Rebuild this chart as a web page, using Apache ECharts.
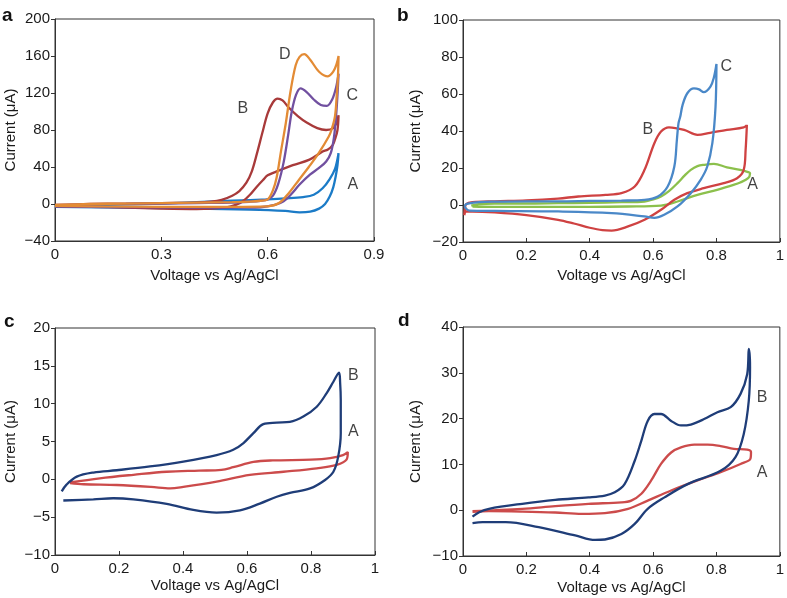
<!DOCTYPE html>
<html>
<head>
<meta charset="utf-8">
<script src="https://cdn.jsdelivr.net/npm/echarts@6/dist/echarts.min.js"></script>
<style>
html,body{margin:0;padding:0;background:#fff;}
#chart{width:787px;height:598px;}
</style>
</head>
<body>
<div id="chart"></div>
<script>
// ---------- Panel a (V vs Ag/AgCl, µA) ----------
const aA = [[0,-2],[0.1,-1.2],[0.2,-0.5],[0.3,0.5],[0.4,2],[0.5,3.5],[0.6,5],[0.65,6],[0.7,7.5],[0.73,10],[0.755,17],[0.775,27],[0.79,38],[0.8,55],
  [0.797,42],[0.792,30],[0.785,18],[0.775,8],[0.762,0],[0.745,-5],[0.72,-8.3],[0.69,-9],[0.65,-7.5],[0.55,-6],[0.4,-5],[0.2,-4],[0,-3]];
const aB = [[0,-1],[0.1,0],[0.2,0.5],[0.3,1],[0.4,1.5],[0.44,2.5],[0.47,4.5],[0.5,9],[0.52,14],[0.54,23],[0.555,35],[0.57,55],[0.585,77],[0.6,98],[0.615,110],[0.628,114],[0.642,112],[0.66,104],[0.685,95],[0.71,88],[0.74,82],[0.765,80],[0.785,82],[0.795,89],[0.8,96],
  [0.797,80],[0.79,70],[0.784,64],[0.77,59],[0.754,56.5],[0.718,48],[0.671,42],[0.624,35],[0.6,31],[0.587,26],[0.57,19],[0.55,10],[0.53,3],[0.51,-1],[0.48,-4],[0.4,-5.5],[0.3,-5],[0.2,-4],[0.1,-3],[0,-2.5]];
const aC = [[0,-1.5],[0.1,-0.5],[0.2,0],[0.3,0.5],[0.4,1],[0.5,1.5],[0.55,2.5],[0.58,3.5],[0.6,5],[0.615,9],[0.63,22],[0.645,45],[0.658,75],[0.668,100],[0.68,118],[0.693,125],[0.71,121],[0.73,113],[0.75,107],[0.767,106],[0.782,113],[0.793,126],[0.8,141],
  [0.797,118],[0.793,95],[0.787,72],[0.778,55],[0.765,46],[0.745,39],[0.72,32],[0.69,21],[0.665,10],[0.645,3],[0.62,-1],[0.58,-3.5],[0.5,-4],[0.3,-3.5],[0.1,-3],[0,-2.5]];
const aD = [[0,-1],[0.1,0],[0.2,0.5],[0.3,1],[0.4,1.5],[0.5,2],[0.55,2.5],[0.58,3.5],[0.6,5],[0.615,15],[0.625,28],[0.638,58],[0.651,87],[0.665,123],[0.679,150],[0.69,159],[0.703,162],[0.72,156],[0.745,143],[0.77,138],[0.785,143],[0.795,152],[0.8,160],
  [0.798,135],[0.795,118],[0.79,95],[0.78,80],[0.772,72.7],[0.744,55],[0.716,40],[0.688,26],[0.66,12],[0.632,1],[0.6,-2.5],[0.5,-3],[0.3,-3],[0.1,-2.5],[0,-2]];
const aLabels = [[0.648,161,'D'],[0.530,103,'B'],[0.839,117,'C'],[0.840,21,'A']];

// ---------- Panel b ----------
const bA = [[0.026,-0.3],[0.05,0.5],[0.1,0.8],[0.2,0.8],[0.3,1],[0.4,1.2],[0.5,1.5],[0.573,1.9],[0.6,3],[0.625,4.6],[0.65,7.5],[0.677,11.8],[0.7,16],[0.719,19],[0.74,21],[0.76,21.7],[0.792,22.2],[0.833,20.4],[0.875,19],[0.9,17.8],[0.906,17.2],
  [0.9,14.5],[0.875,12.2],[0.854,10.9],[0.802,8.2],[0.74,5.5],[0.677,1.9],[0.625,-0.3],[0.52,-0.8],[0.4,-1],[0.2,-1],[0.1,-1],[0.03,-0.8]];
const bB = [[0.004,-5.5],[0.006,-2],[0.01,0.5],[0.03,1.5],[0.1,2],[0.2,2.5],[0.3,3.5],[0.364,4.6],[0.45,5.5],[0.5,6.4],[0.542,10],[0.573,19],[0.604,33.4],[0.625,39.7],[0.65,42],[0.698,40.6],[0.74,37.9],[0.78,39],[0.833,40.6],[0.886,42],[0.896,43.3],
  [0.892,29.8],[0.886,19],[0.865,14.5],[0.823,11.8],[0.76,9.1],[0.708,6.4],[0.667,2.8],[0.625,-2.6],[0.573,-8],[0.521,-11.6],[0.469,-13.8],[0.44,-13.6],[0.4,-12.3],[0.35,-10],[0.3,-8],[0.2,-5.5],[0.1,-4],[0.03,-3.5],[0.01,-3.5],[0.004,-5.5]];
const bC = [[0.005,-1],[0.01,0.5],[0.05,1.5],[0.1,1.8],[0.2,2],[0.3,2],[0.4,2.2],[0.5,2.4],[0.573,2.8],[0.615,4.6],[0.646,10],[0.667,20.8],[0.675,35],[0.68,44],[0.686,48],[0.693,54],[0.708,60.4],[0.729,63],[0.745,62.5],[0.76,61],[0.781,64],[0.792,69],[0.8,76.2],
  [0.797,53],[0.787,33.4],[0.771,20.8],[0.75,13.6],[0.719,6.4],[0.677,-0.8],[0.635,-5.3],[0.604,-7],[0.573,-6.2],[0.469,-4.4],[0.3,-3.5],[0.1,-3.2],[0.02,-3],[0.005,-1]];
const bLabels = [[0.831,75,'C'],[0.583,41,'B'],[0.914,11,'A']];

// ---------- Panel c ----------
const cA = [[0.047,-0.4],[0.14,0.14],[0.245,0.6],[0.349,1.0],[0.45,1.15],[0.52,1.25],[0.557,1.6],[0.62,2.3],[0.68,2.5],[0.8,2.6],[0.86,2.8],[0.9,3.2],[0.915,3.6],
  [0.911,2.6],[0.88,1.9],[0.818,1.46],[0.714,1.0],[0.609,0.58],[0.505,-0.3],[0.401,-1.0],[0.36,-1.2],[0.3,-1.0],[0.193,-0.75],[0.089,-0.65],[0.047,-0.5]];
const cB = [[0.021,-1.6],[0.036,-0.7],[0.068,0.36],[0.12,0.9],[0.193,1.2],[0.297,1.7],[0.401,2.35],[0.505,3.2],[0.557,3.9],[0.589,4.8],[0.62,6.1],[0.651,7.3],[0.693,7.5],[0.734,7.6],[0.776,8.3],[0.818,9.6],[0.849,11.4],[0.87,12.9],[0.8875,14.1],
  [0.891,12.8],[0.893,10.5],[0.893,6.1],[0.885,3.0],[0.87,1.0],[0.844,-0.08],[0.797,-1.2],[0.734,-1.8],[0.693,-2.3],[0.64,-3.2],[0.578,-4.1],[0.505,-4.4],[0.432,-4.05],[0.349,-3.25],[0.245,-2.65],[0.182,-2.5],[0.12,-2.65],[0.026,-2.8]];
const cLabels = [[0.932,13.7,'B'],[0.932,6.3,'A']];

// ---------- Panel d ----------
const dA = [[0.03,-0.2],[0.187,0.3],[0.291,0.9],[0.396,1.4],[0.5,1.7],[0.531,2.1],[0.563,3.6],[0.594,6.5],[0.625,10.1],[0.657,12.6],[0.688,13.7],[0.73,14.3],[0.772,14.3],[0.813,14],[0.855,13.4],[0.897,13.2],[0.909,12.7],
  [0.907,11.2],[0.876,10.1],[0.813,8.3],[0.74,6.5],[0.657,4.3],[0.583,2.1],[0.521,0.3],[0.448,-0.65],[0.375,-0.8],[0.291,-0.5],[0.187,-0.3],[0.082,-0.2],[0.03,-0.36]];
const dB = [[0.03,-1.4],[0.051,-0.44],[0.082,0.3],[0.187,1.4],[0.291,2.25],[0.396,2.8],[0.448,3.2],[0.479,3.9],[0.51,5.7],[0.542,10.8],[0.563,15.2],[0.583,19.5],[0.604,21],[0.625,21],[0.657,19.5],[0.688,18.5],[0.719,18.7],[0.761,19.9],[0.803,21.4],[0.845,22.5],[0.876,25.4],[0.897,29.7],[0.902,35.2],
  [0.906,31.2],[0.902,23.9],[0.886,16.6],[0.86,11.6],[0.813,8.6],[0.709,5.7],[0.636,2.8],[0.583,0.3],[0.542,-3.0],[0.5,-5.2],[0.448,-6.4],[0.417,-6.5],[0.354,-5.5],[0.239,-3.7],[0.135,-2.6],[0.062,-2.6],[0.03,-2.8]];
const dLabels = [[0.944,24.6,'B'],[0.944,8.3,'A']];

// axis ranges
const xRanges = [[0,0.9,0.3],[0,1,0.2],[0,1,0.2],[0,1,0.2]];
const yRanges = [[-40,200,40],[-20,100,20],[-10,20,5],[-10,40,10]];
const panelLetters = ['a','b','c','d'];
const xTitle = 'Voltage vs Ag/AgCl';
const yTitle = 'Current (μA)';

const FONT = '"Liberation Sans", Arial, Helvetica, sans-serif';
const TXT = '#1a1a1a';
const FS = 15;
const grids = [
  {left:55, top:19, width:319, height:222},
  {left:463, top:20, width:320, height:222},
  {left:55, top:328, width:320, height:227},
  {left:463, top:327, width:320, height:229}
];
const yNameGap = [37, 40, 37, 40];
const xNameGap = [27, 26, 23, 24];
const fmt = v => (v < 0 ? '\u2212' + Math.abs(v) : String(v));

const xAxis = xRanges.map((r,i) => ({
  type:'value', gridIndex:i, min:r[0], max:r[1], interval:r[2],
  axisLine:{show:true, onZero:false, lineStyle:{color:'#333', width:1}},
  axisTick:{show:true, inside:true, length:4, lineStyle:{color:'#333'}},
  axisLabel:{margin:6, fontSize:FS, color:TXT, fontFamily:FONT, formatter:fmt},
  splitLine:{show:false},
  name:xTitle, nameLocation:'middle', nameGap:xNameGap[i],
  nameTextStyle:{fontSize:FS, color:TXT, fontFamily:FONT}
}));
const yAxis = yRanges.map((r,i) => ({
  type:'value', gridIndex:i, min:r[0], max:r[1], interval:r[2],
  axisLine:{show:true, onZero:false, lineStyle:{color:'#333', width:1}},
  axisTick:{show:true, inside:false, length:4, lineStyle:{color:'#333'}},
  axisLabel:{margin:5, fontSize:FS, color:TXT, fontFamily:FONT, formatter:fmt},
  splitLine:{show:false},
  name:yTitle, nameLocation:'middle', nameGap:yNameGap[i], nameRotate:90,
  nameTextStyle:{fontSize:FS, color:TXT, fontFamily:FONT}
}));

function curve(data, color, gi){
  return {type:'line', xAxisIndex:gi, yAxisIndex:gi, data:data, smooth:0.35,
    showSymbol:false, symbol:'none', lineStyle:{color:color, width:2.3}, silent:true, z:3};
}
function labels(data, gi){
  return {type:'scatter', xAxisIndex:gi, yAxisIndex:gi, symbolSize:1,
    itemStyle:{color:'rgba(0,0,0,0)'}, silent:true, z:5,
    data:data.map(d => ({value:[d[0], d[1]], name:d[2]})),
    label:{show:true, position:'inside', formatter:p => p.name, fontSize:16, color:'#111', fontFamily:FONT}};
}

const series = [
  curve(aA,'#1b7bc7',0), curve(aB,'#a83a3a',0), curve(aC,'#7150a0',0), curve(aD,'#e38b35',0), labels(aLabels,0),
  curve(bA,'#8cc04c',1), curve(bB,'#cf4242',1), curve(bC,'#4a88c8',1), labels(bLabels,1),
  curve(cA,'#cc4b4b',2), curve(cB,'#1f3d78',2), labels(cLabels,2),
  curve(dA,'#cc4b4b',3), curve(dB,'#1f3d78',3), labels(dLabels,3)
];

const letterPos = [[2,6],[397,6],[4,312],[398,311]];
const graphic = panelLetters.map((t,i) => ({
  type:'text', left:letterPos[i][0], top:letterPos[i][1],
  style:{text:t, font:'bold 19px ' + FONT, fill:'#111'}
}));

const chart = echarts.init(document.getElementById('chart'), null, {renderer:'canvas'});
chart.setOption({
  animation:false,
  backgroundColor:'#fff',
  grid: grids.map(g => Object.assign({show:true, borderColor:'#333', borderWidth:1, backgroundColor:'transparent'}, g)),
  xAxis, yAxis, series, graphic
});
</script>
</body>
</html>
